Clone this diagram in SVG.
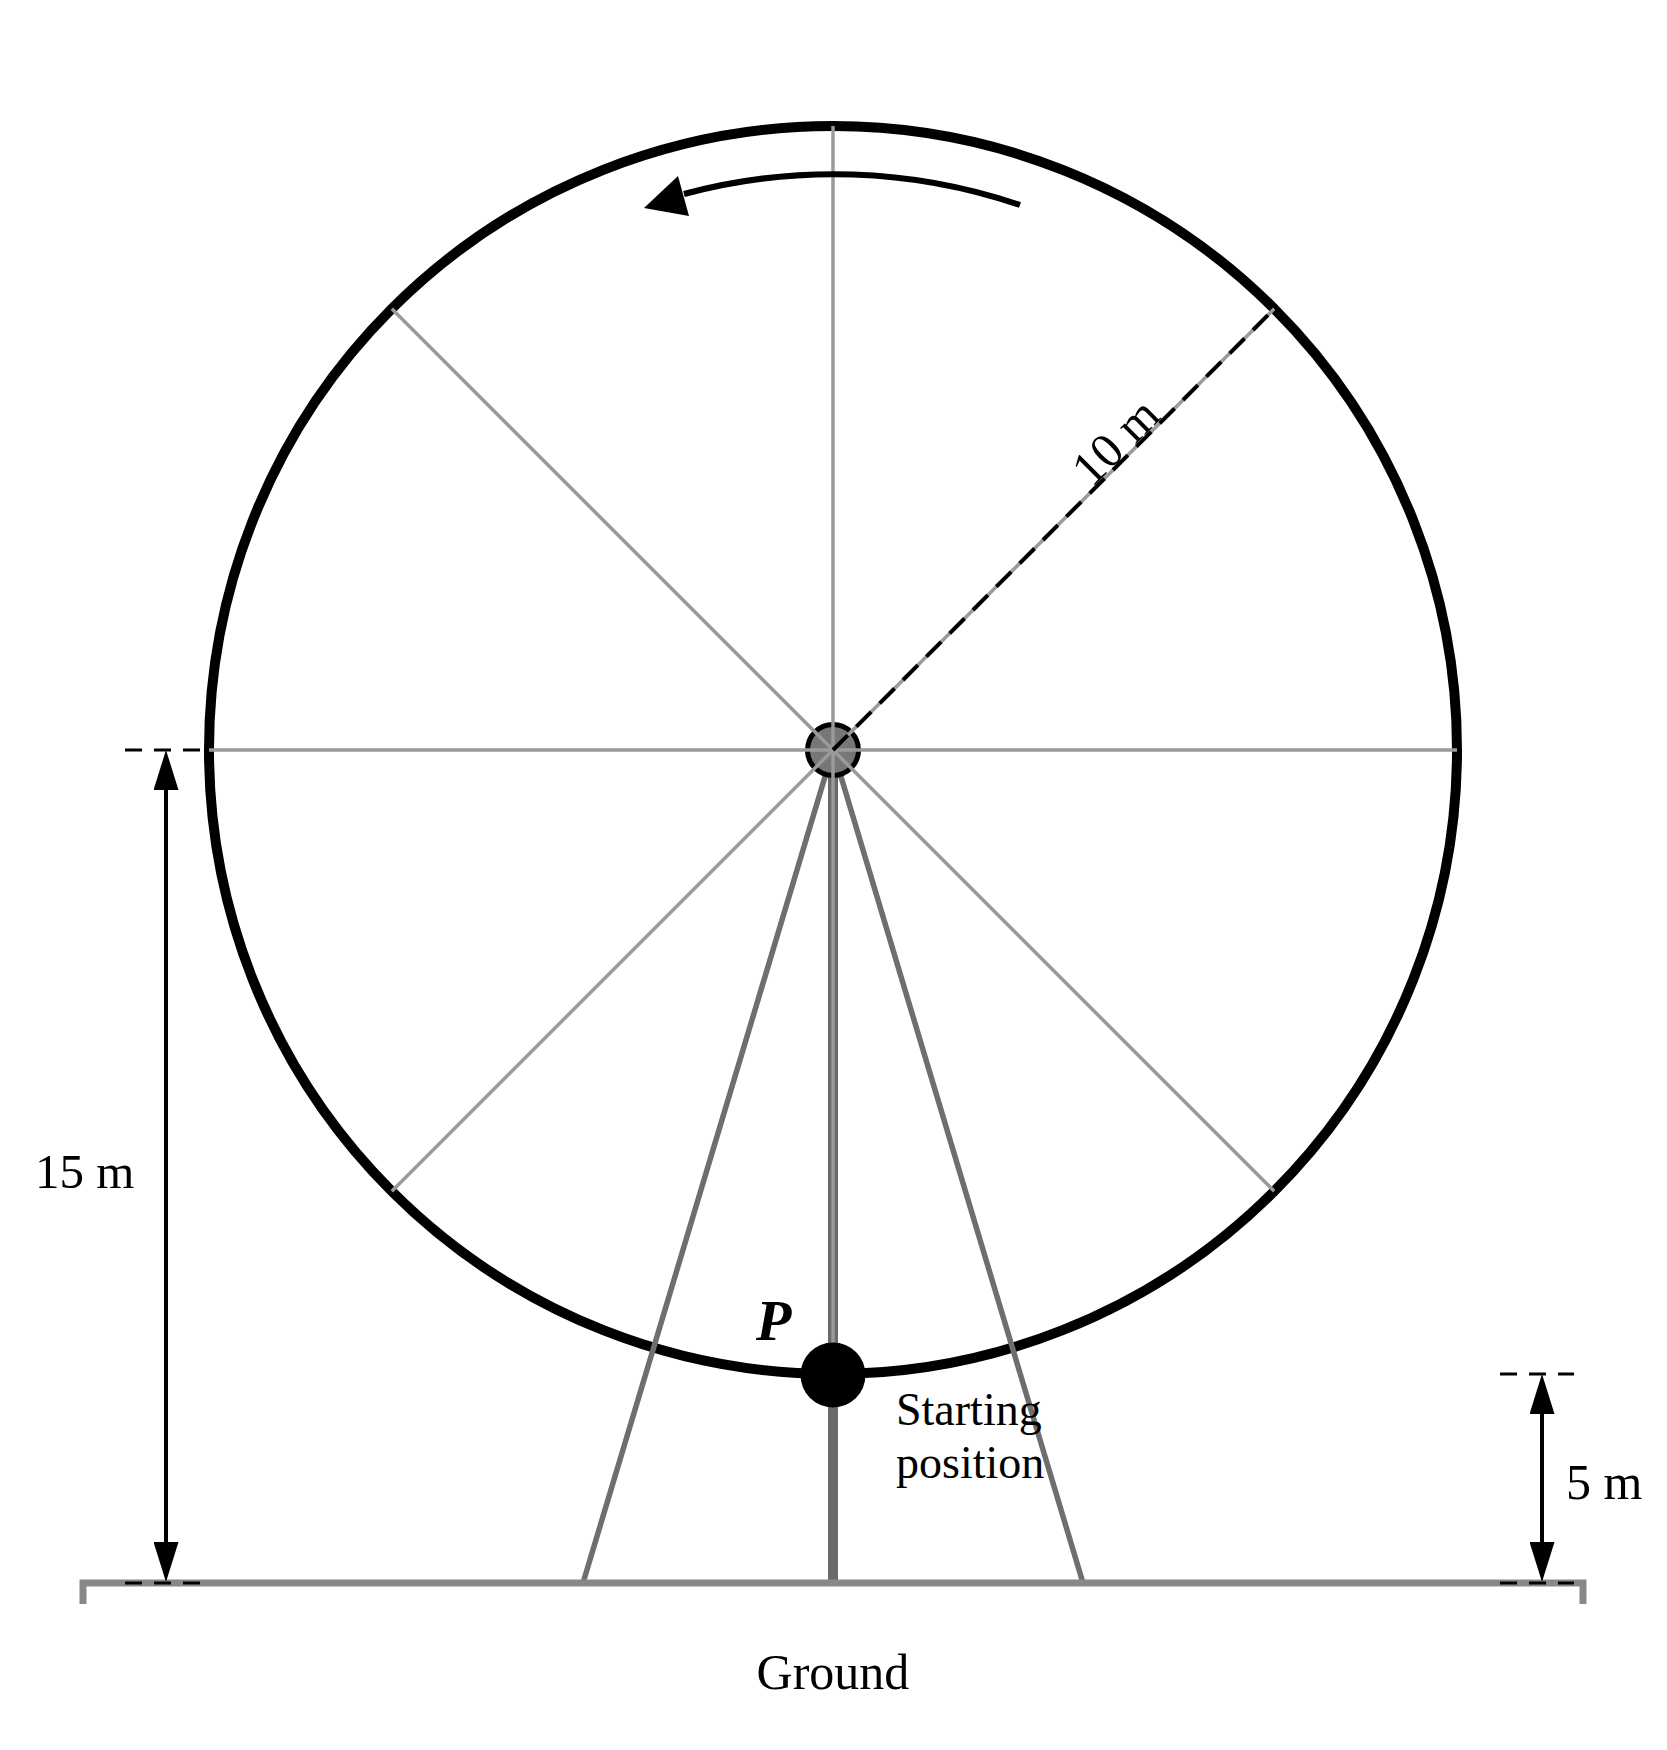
<svg xmlns="http://www.w3.org/2000/svg" width="1667" height="1750" viewBox="0 0 1667 1750">
  <defs>
    <style>
      .txt { font-family: "Liberation Serif", "Times New Roman", serif; fill: #000; }
      .spoke { stroke: #9a9a9a; stroke-width: 3.5; fill: none; }
      .leg { stroke: #6e6e6e; stroke-width: 5.5; fill: none; }
      .ext { stroke: #000; stroke-width: 3; stroke-dasharray: 17 12; fill: none; }
      .dim { stroke: #000; stroke-width: 4; fill: none; marker-start: url(#dimArrow); marker-end: url(#dimArrow); }
    </style>
    <marker id="dimArrow" markerUnits="userSpaceOnUse" markerWidth="40" markerHeight="25" viewBox="0 0 40 25" refX="30" refY="12.5" orient="auto-start-reverse">
      <path d="M0,0 L40,12.5 L0,25 Z" fill="#000"/>
    </marker>
  </defs>
  <rect width="1667" height="1750" fill="#fff"/>

  <g id="wheel">
    <circle cx="833" cy="750" r="624" fill="none" stroke="#000" stroke-width="10"/>
  </g>

  <g id="supports">
    <line class="leg" x1="833" y1="750" x2="583" y2="1583"/>
    <line class="leg" x1="833" y1="750" x2="1083" y2="1583"/>
    <line x1="833" y1="750" x2="833" y2="1583" stroke="#6a6a6a" stroke-width="10"/>
  </g>

  <g id="ground">
    <path d="M83,1604 V1583 H1583 V1604" fill="none" stroke="#888" stroke-width="7" stroke-linejoin="miter"/>
  </g>

  <g id="hub">
    <circle cx="833" cy="750" r="25.5" fill="#777" stroke="#000" stroke-width="5"/>
  </g>

  <g id="spokes">
    <line class="spoke" x1="833" y1="750" x2="833" y2="126"/>
    <line class="spoke" x1="833" y1="750" x2="833" y2="1374"/>
    <line class="spoke" x1="833" y1="750" x2="209" y2="750"/>
    <line class="spoke" x1="833" y1="750" x2="1457" y2="750"/>
    <line class="spoke" x1="833" y1="750" x2="391.8" y2="308.8"/>
    <line class="spoke" x1="833" y1="750" x2="1274.2" y2="308.8"/>
    <line class="spoke" x1="833" y1="750" x2="391.8" y2="1191.2"/>
    <line class="spoke" x1="833" y1="750" x2="1274.2" y2="1191.2"/>
  </g>

  <g id="connectors">
    <line id="radius" x1="833" y1="750" x2="1274.2" y2="308.8" stroke="#000" stroke-width="4" stroke-dasharray="21 12"/>
    <path id="rotation" d="M1020,205 A576,576 0 0,0 684,194" fill="none" stroke="#000" stroke-width="6"/>
    <polygon points="644,208 678,176 689,216" fill="#000"/>
    <line class="ext" x1="125" y1="750" x2="210" y2="750"/>
    <line class="ext" x1="125" y1="1583" x2="200" y2="1583"/>
    <line class="ext" x1="1500" y1="1374" x2="1574" y2="1374"/>
    <line class="ext" x1="1500" y1="1583" x2="1574" y2="1583"/>
    <line class="dim" x1="166" y1="760" x2="166" y2="1572"/>
    <line class="dim" x1="1542" y1="1384" x2="1542" y2="1572"/>
  </g>

  <g id="point-P">
    <circle cx="833" cy="1375" r="32.5" fill="#000"/>
    <text class="txt" x="756" y="1340" font-size="58" font-weight="bold" font-style="italic">P</text>
  </g>

  <g id="labels">
    <text class="txt" x="1127" y="453" font-size="49" text-anchor="middle" transform="rotate(-45 1127 453)">10 m</text>
    <text class="txt" x="35" y="1188" font-size="49">15 m</text>
    <text class="txt" x="1566" y="1499" font-size="50">5 m</text>
    <text class="txt" x="896" y="1425" font-size="46">Starting</text>
    <text class="txt" x="896" y="1478" font-size="46">position</text>
    <text class="txt" x="833" y="1689" font-size="50" text-anchor="middle">Ground</text>
  </g>
</svg>
